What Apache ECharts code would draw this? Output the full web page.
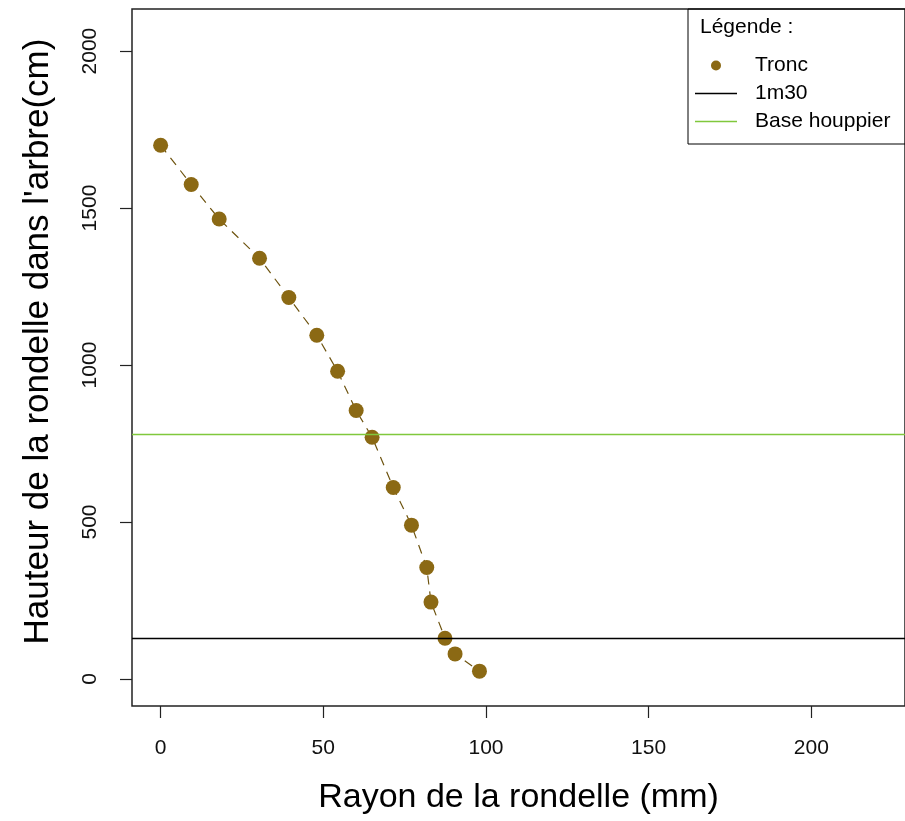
<!DOCTYPE html>
<html>
<head>
<meta charset="utf-8">
<script src="https://cdn.jsdelivr.net/npm/echarts@6/dist/echarts.min.js"></script>
<style>
  html, body { margin: 0; padding: 0; background: #fff; }
  #chart { width: 905px; height: 821px; }
</style>
</head>
<body>
<div id="chart"></div>
<script>
// rayon (mm) et hauteur (cm) des rondelles
const rayon = [0, 9.4, 18, 30.4, 39.4, 48, 54.4, 60.1, 65, 71.5, 77.1, 81.8, 83.1, 87.4, 90.5, 98]
const hauteur = [1700, 1575, 1465, 1340, 1215, 1095, 980, 855, 770, 610, 490, 355, 245, 130, 80, 25]
const ligne1m30 = 130
const baseHouppier = 778
const xTicks = [0, 50, 100, 150, 200]
const yTicks = [0, 500, 1000, 1500, 2000]

const brun = '#8B6914'
const vert = '#80C83C'
const font = 'Liberation Sans, Arial, sans-serif'

const points = rayon.map((r, i) => [r, hauteur[i]])

const chart = echarts.init(document.getElementById('chart'), null, { renderer: 'canvas' })

chart.setOption({
  animation: false,
  backgroundColor: '#fff',
  textStyle: { fontFamily: font },
  title: {
    text: 'Légende :',
    left: 700,
    top: 17,
    padding: 0,
    textStyle: { fontFamily: font, fontSize: 21, fontWeight: 'normal', color: '#000' },
  },
  legend: {
    orient: 'vertical',
    left: 688,
    top: 9,
    padding: [46, 15, 12, 7],
    borderColor: '#000',
    borderWidth: 1,
    itemWidth: 42,
    itemHeight: 10,
    itemGap: 7,
    selectedMode: false,
    textStyle: { fontFamily: font, fontSize: 21, color: '#000', lineHeight: 20, padding: [0, 0, 0, 13] },
    data: [
      { name: 'Tronc', icon: 'circle' },
      { name: '1m30', icon: 'path://M0,0H42V1.3H0Z' },
      { name: 'Base houppier', icon: 'path://M0,0H42V1.3H0Z' },
    ],
  },
  grid: {
    left: 132,
    right: -4,
    top: 9,
    bottom: 115,
    show: true,
    borderColor: '#222',
    borderWidth: 1.5,
  },
  xAxis: {
    type: 'value',
    min: -8.8,
    max: 228.8,
    name: 'Rayon de la rondelle (mm)',
    nameLocation: 'middle',
    nameGap: 75,
    nameTextStyle: { fontFamily: font, fontSize: 34, color: '#000' },
    axisLine: { show: false, onZero: false },
    splitLine: { show: false },
    axisTick: { show: true, length: 12, lineStyle: { color: '#222', width: 1.2 }, customValues: xTicks },
    axisLabel: { fontFamily: font, fontSize: 21, color: '#111', margin: 32, customValues: xTicks },
  },
  yAxis: {
    type: 'value',
    min: -86,
    max: 2134,
    name: "Hauteur de la rondelle dans l'arbre(cm)",
    nameLocation: 'middle',
    nameGap: 76,
    nameTextStyle: { fontFamily: font, fontSize: 35, color: '#000', padding: [0, 0, 0, 32] },
    axisLine: { show: false, onZero: false },
    splitLine: { show: false },
    axisTick: { show: true, length: 12, lineStyle: { color: '#222', width: 1.2 }, customValues: yTicks },
    axisLabel: {
      fontFamily: font, fontSize: 21, color: '#111', rotate: 90, margin: 31,
      customValues: yTicks, formatter: (v) => String(v),
    },
  },
  series: [
    {
      name: 'Tronc-ligne',
      type: 'line',
      data: points,
      symbol: 'none',
      lineStyle: { color: '#6E5410', width: 1.2, type: [9, 7] },
      silent: true,
      z: 2,
    },
    {
      name: 'Tronc',
      type: 'scatter',
      data: points,
      symbol: 'circle',
      symbolSize: 15,
      itemStyle: { color: brun, opacity: 1 },
      z: 3,
    },
    {
      name: '1m30',
      type: 'line',
      data: [],
      color: '#000',
      symbol: 'none',
      markLine: {
        silent: true,
        symbol: ['none', 'none'],
        label: { show: false },
        lineStyle: { color: '#000', width: 1.3, type: 'solid' },
        data: [{ yAxis: ligne1m30 }],
      },
    },
    {
      name: 'Base houppier',
      type: 'line',
      data: [],
      color: vert,
      symbol: 'none',
      markLine: {
        silent: true,
        symbol: ['none', 'none'],
        label: { show: false },
        lineStyle: { color: vert, width: 1.3, type: 'solid' },
        data: [{ yAxis: baseHouppier }],
      },
    },
  ],
})
</script>
</body>
</html>
